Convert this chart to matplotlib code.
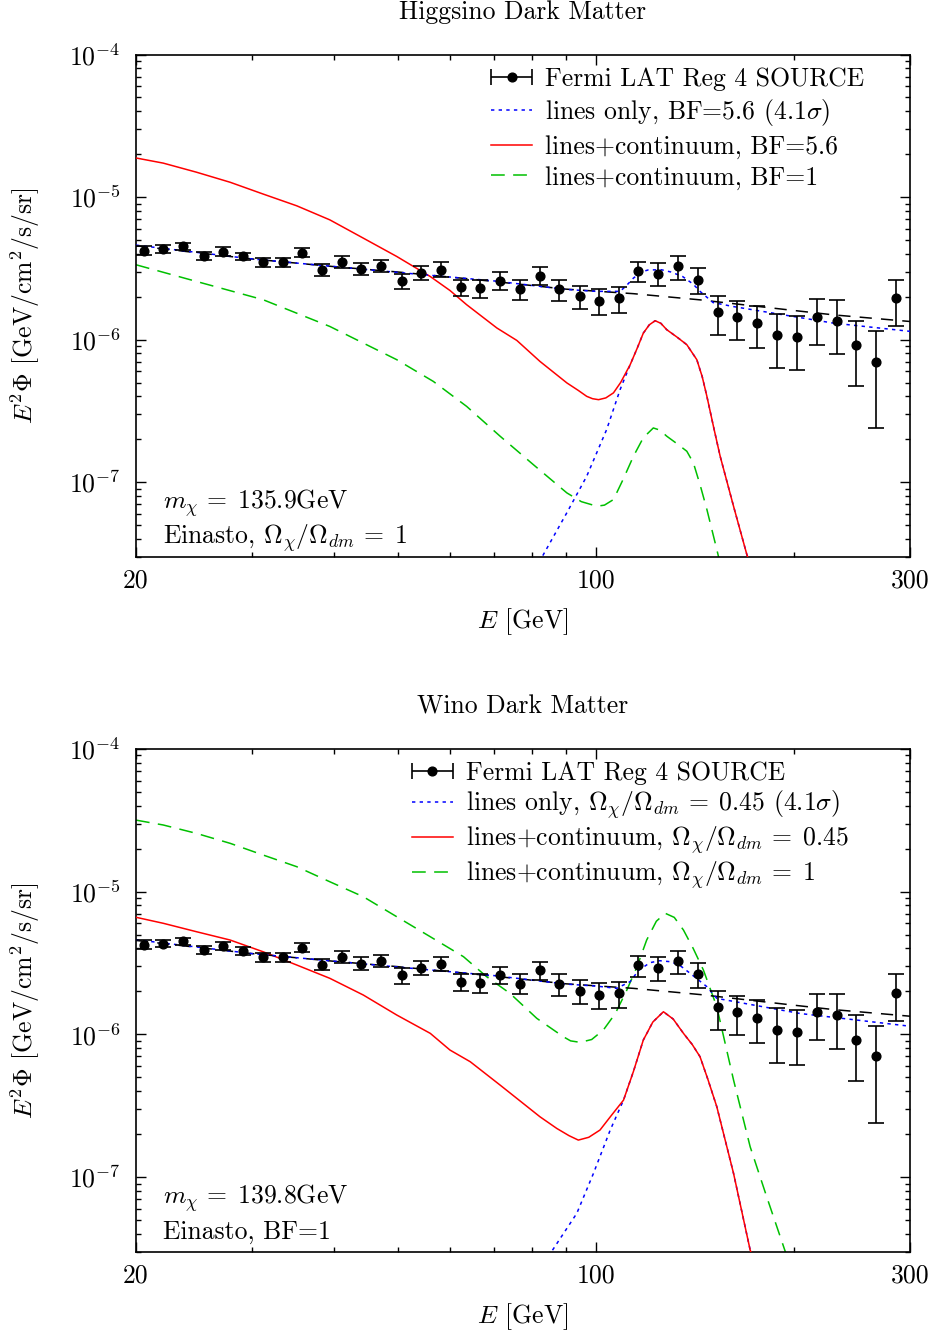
import numpy as np
import matplotlib
matplotlib.use('Agg')
import matplotlib.pyplot as plt
from matplotlib.ticker import FixedLocator, NullFormatter, LogLocator
from matplotlib.legend_handler import HandlerErrorbar

plt.rcParams.update({
    'font.family': 'serif',
    'font.serif': ['cmr10'],
    'mathtext.fontset': 'cm',
    'axes.unicode_minus': False,
    'axes.formatter.use_mathtext': True,
    'font.size': 18.5,
})

# Fermi LAT Reg 4 SOURCE data (flux in units of 1e-6 GeV/cm^2/s/sr)
energy = [20.6, 22.0, 23.6, 25.4, 27.1, 29.1, 31.2, 33.4, 35.8, 38.4, 41.1, 44.0, 47.1,
          50.7, 54.2, 58.1, 62.4, 66.7, 71.5, 76.7, 82.2, 88.0, 94.4, 101.1, 108.3, 116.0,
          124.4, 133.4, 142.9, 153.1, 164.0, 175.7, 188.3, 201.9, 216.5, 232.2, 248.6,
          266.2, 285.4]
flux = [4.20, 4.32, 4.50, 3.87, 4.15, 3.83, 3.48, 3.48, 4.05, 3.06, 3.48, 3.13, 3.26,
        2.59, 2.93, 3.09, 2.34, 2.30, 2.59, 2.26, 2.81, 2.26, 2.01, 1.88, 1.95, 3.04,
        2.90, 3.26, 2.63, 1.56, 1.43, 1.31, 1.07, 1.04, 1.43, 1.36, 0.92, 0.70, 1.96]
flux_hi = [4.55, 4.60, 4.75, 4.15, 4.46, 4.08, 3.71, 3.73, 4.36, 3.39, 3.83, 3.46, 3.59,
           2.90, 3.26, 3.48, 2.63, 2.63, 2.96, 2.63, 3.21, 2.63, 2.39, 2.28, 2.34, 3.53,
           3.46, 3.85, 3.16, 2.02, 1.86, 1.73, 1.52, 1.47, 1.93, 1.91, 1.36, 1.15, 2.64]
flux_lo = [3.94, 4.08, 4.22, 3.63, 3.87, 3.59, 3.21, 3.21, 3.77, 2.81, 3.16, 2.84, 2.96,
           2.27, 2.60, 2.77, 2.01, 1.96, 2.24, 1.91, 2.40, 1.87, 1.64, 1.50, 1.54, 2.52,
           2.37, 2.63, 2.10, 1.08, 0.99, 0.87, 0.63, 0.61, 0.92, 0.79, 0.47, 0.24, 1.25]

# background-only fit (black dashed), same in both panels
bg_E = [20, 30, 40, 50, 65, 90, 114, 144, 200, 230, 300]
bg_val = [4.55, 3.68, 3.25, 2.98, 2.65, 2.26, 2.10, 1.90, 1.60, 1.49, 1.34]

# --- Higgsino panel ---
h_fit_E = [20, 30, 50, 70, 90, 100, 108.8, 111.3, 114, 117.1, 120, 125.7, 130, 135.4,
           140.5, 143.9, 150.6, 161.5, 229.3, 300]
h_fit_val = [4.60, 3.68, 2.96, 2.58, 2.25, 2.18, 2.18, 2.40, 2.70, 2.98, 3.08, 3.09,
             2.98, 2.77, 2.45, 2.18, 1.82, 1.707, 1.306, 1.143]
h_sig_E = [80, 83.2, 90.3, 96.8, 103.8, 108.8, 112.7, 115.5, 118.0, 120.5, 123.0, 125.5,
           128.1, 132.7, 137.4, 142.3, 145, 147.4, 151, 154.4, 161.8, 169.5, 173]
h_sig_val = [0.022, 0.0311, 0.061, 0.110, 0.234, 0.446, 0.667, 0.87, 1.11, 1.27, 1.357,
             1.30, 1.173, 1.043, 0.921, 0.723, 0.55, 0.400, 0.24, 0.152, 0.0678, 0.0311,
             0.024]
h_red_E = [20.0, 22.0, 24.7, 27.8, 31.2, 35.1, 39.4, 44.3, 49.8, 56.0, 60.0, 63.6, 70.7,
           75.8, 82.2, 90.3, 94, 96.8, 98.8, 100.9, 103.5, 106.3, 109, 112.7, 115.5,
           118.0, 120.5, 123.0, 125.5, 128.1, 132.7, 137.4, 142.3, 145, 147.4, 151,
           154.4, 161.8, 169.5, 173]
h_red_val = [18.8, 17.3, 14.95, 12.7, 10.5, 8.68, 6.92, 5.15, 3.83, 2.77, 2.21, 1.757,
             1.206, 0.987, 0.703, 0.497, 0.44, 0.400, 0.385, 0.379, 0.39, 0.423, 0.50,
             0.667, 0.87, 1.11, 1.27, 1.357, 1.30, 1.173, 1.043, 0.921, 0.723, 0.55,
             0.400, 0.24, 0.152, 0.0678, 0.0311, 0.024]
h_grn_E = [20, 24.7, 31.2, 39.4, 49.8, 56.6, 63.6, 71.5, 80.3, 90.3, 95, 100.3, 103,
           106.3, 110, 114.0, 118, 122.2, 125, 128.1, 133, 137.4, 140.6, 144, 147.4,
           152.6, 156]
h_grn_val = [3.35, 2.56, 1.905, 1.237, 0.723, 0.509, 0.340, 0.210, 0.1328, 0.0841,
             0.073, 0.0678, 0.069, 0.0755, 0.105, 0.152, 0.205, 0.240, 0.232, 0.210,
             0.185, 0.1648, 0.1365, 0.095, 0.0643, 0.0337, 0.022]

# --- Wino panel ---
w_fit_E = [20, 30, 50, 70, 90, 100, 107.5, 112.7, 116, 120.8, 125, 129.6, 134, 139.0,
           147.4, 152.6, 204.2, 300]
w_fit_val = [4.60, 3.68, 2.96, 2.58, 2.25, 2.18, 2.10, 2.34, 2.80, 3.18, 3.28, 3.23,
             3.05, 2.677, 2.157, 1.787, 1.40, 1.14]
w_sig_E = [83, 85.7, 93.5, 99.1, 105.1, 110.1, 114, 118.0, 122, 126.6, 131, 135.8, 140,
           143.9, 148, 152.6, 161.8, 171.5, 175]
w_sig_val = [0.022, 0.0303, 0.0557, 0.106, 0.2135, 0.346, 0.55, 0.912, 1.22, 1.44, 1.28,
             1.016, 0.85, 0.697, 0.48, 0.311, 0.1062, 0.0308, 0.024]
w_red_E = [20, 22.0, 24.7, 27.8, 31.2, 35.1, 39.4, 44.3, 49.8, 56.0, 60.0, 64.4, 71.5,
           82.2, 87.2, 91, 94.0, 97.5, 101.4, 105.5, 110.1, 114, 118.0, 122, 126.6, 131,
           135.8, 140, 143.9, 148, 152.6, 161.8, 171.5, 175]
w_red_val = [6.61, 6.00, 5.24, 4.58, 3.79, 3.06, 2.47, 1.886, 1.366, 1.016, 0.776, 0.643,
             0.441, 0.2645, 0.219, 0.195, 0.1816, 0.19, 0.2135, 0.27, 0.346, 0.55, 0.912,
             1.22, 1.44, 1.28, 1.016, 0.85, 0.697, 0.48, 0.311, 0.1062, 0.0308, 0.024]
w_grn_E = [20, 22.0, 24.7, 27.8, 31.2, 35.1, 39.4, 44.3, 49.8, 56.0, 62.9, 68.2, 74.0,
           81.3, 89.2, 91.5, 94.6, 98.5, 102.6, 107, 111.4, 115.5, 119.4, 123.5, 127.4,
           131.5, 135.8, 140.5, 145.6, 152.6, 161.8, 171.5, 181.7, 193.8, 197]
w_grn_val = [31.7, 29.3, 25.6, 21.8, 18.05, 14.95, 11.73, 9.21, 6.67, 4.83, 3.50, 2.535,
             1.938, 1.294, 0.962, 0.90, 0.879, 0.92, 1.072, 1.4, 2.044, 3.0, 4.58, 6.2,
             7.05, 6.6, 5.38, 4.0, 2.825, 1.56, 0.479, 0.163, 0.0728, 0.0303, 0.024]

panels = [
    dict(title='Higgsino Dark Matter', fit=(h_fit_E, h_fit_val), sig=(h_sig_E, h_sig_val),
         red=(h_red_E, h_red_val), grn=(h_grn_E, h_grn_val),
         labels=[r'lines only, BF=5.6 (4.1$\sigma$)', 'lines+continuum, BF=5.6',
                 'lines+continuum, BF=1'],
         note=[r'$m_\chi\,=\;135.9$GeV', r'Einasto, $\Omega_\chi/\Omega_{dm}\,=\;1$'],
         leg_x=0.459, spacing=0.26),
    dict(title='Wino Dark Matter', fit=(w_fit_E, w_fit_val), sig=(w_sig_E, w_sig_val),
         red=(w_red_E, w_red_val), grn=(w_grn_E, w_grn_val),
         labels=[r'lines only, $\Omega_\chi/\Omega_{dm}\,=\;0.45$ (4.1$\sigma$)',
                 r'lines+continuum, $\Omega_\chi/\Omega_{dm}\,=\;0.45$',
                 r'lines+continuum, $\Omega_\chi/\Omega_{dm}\,=\;1$'],
         note=[r'$m_\chi\,=\;139.8$GeV', 'Einasto, BF=1'],
         leg_x=0.356, spacing=0.12),
]

W, H = 935, 1334
fig = plt.figure(figsize=(W / 100, H / 100), dpi=100)
axes_px = [(136, 54.5, 910, 556.7), (136, 748.9, 910, 1251.7)]

s = 1e-6
E = np.array(energy)
F = np.array(flux) * s
yerr = [F - np.array(flux_lo) * s, np.array(flux_hi) * s - F]

for p, (x0, y0, x1, y1) in zip(panels, axes_px):
    ax = fig.add_axes([x0 / W, 1 - y1 / H, (x1 - x0) / W, (y1 - y0) / H])
    ax.set_xscale('log')
    ax.set_yscale('log')

    grn, = ax.plot(p['grn'][0], np.array(p['grn'][1]) * s, color='#00c000', lw=1.1,
                   dashes=(9, 5.5), zorder=2)
    ax.plot(p['sig'][0], np.array(p['sig'][1]) * s, color='#0000ff', lw=1.1,
            dashes=(2.2, 2.8), zorder=2)
    red, = ax.plot(p['red'][0], np.array(p['red'][1]) * s, color='#ff0000', lw=1.1,
                   zorder=3)
    ax.plot(bg_E, np.array(bg_val) * s, color='k', lw=1.1, dashes=(8, 6), zorder=3)
    blue, = ax.plot(p['fit'][0], np.array(p['fit'][1]) * s, color='#0000ff', lw=1.1,
                    dashes=(2.2, 2.8), zorder=3)
    ax.errorbar(E, F, yerr=yerr, fmt='o', color='k', ms=6.3, elinewidth=1.2,
                capsize=6, capthick=1.2, zorder=4)
    # legend handle: horizontal bar with caps, as in the original key
    leg_h = ax.errorbar([np.nan], [np.nan], xerr=[[1], [1]], fmt='o', color='k',
                        ms=6.3, elinewidth=1.2, capsize=6, capthick=1.2)

    ax.set_xlim(20, 300)
    ax.set_ylim(3e-8, 1e-4)
    ax.xaxis.set_major_locator(FixedLocator([20, 100, 300]))
    ax.xaxis.set_minor_locator(FixedLocator([30, 40, 50, 60, 70, 80, 90, 200]))
    ax.set_xticklabels(['20', '100', '300'])
    ax.xaxis.set_minor_formatter(NullFormatter())
    ax.yaxis.set_major_locator(LogLocator(base=10, numticks=10))
    ax.yaxis.set_minor_locator(LogLocator(base=10, subs=np.arange(2, 10), numticks=20))
    ax.yaxis.set_minor_formatter(NullFormatter())
    ax.tick_params(which='both', direction='in', top=True, right=True, width=1.0)
    ax.tick_params(which='major', length=7)
    ax.tick_params(which='minor', length=3.5)
    ax.tick_params(axis='x', which='major', pad=9)
    ax.tick_params(axis='y', which='major', pad=11)
    for sp in ax.spines.values():
        sp.set_linewidth(1.2)

    handles = [leg_h, blue, red, grn]
    labels = ['Fermi LAT Reg 4 SOURCE'] + p['labels']
    ax.legend(handles, labels, loc='upper left', bbox_to_anchor=(p['leg_x'], 0.975),
              frameon=False, borderpad=0, borderaxespad=0, handlelength=1.6,
              handletextpad=0.5, labelspacing=p['spacing'], numpoints=1,
              handler_map={type(leg_h): HandlerErrorbar(xerr_size=0.8)})

    ax.text(0.035, 0.107, p['note'][0], transform=ax.transAxes, ha='left', va='center')
    ax.text(0.035, 0.038, p['note'][1], transform=ax.transAxes, ha='left', va='center')

    ax.text(0.5, -0.13, r'$E$ [GeV]', transform=ax.transAxes, ha='center', va='center')
    ax.text(-0.1434, 0.5, r'$E^2\Phi$ [GeV/cm$^2$/s/sr]', transform=ax.transAxes,
            ha='center', va='center', rotation=90)
    fig.text((x0 + x1) / 2 / W, 1 - (y0 - 42) / H, p['title'], ha='center', va='center')

fig.savefig('out.png', dpi=100)
